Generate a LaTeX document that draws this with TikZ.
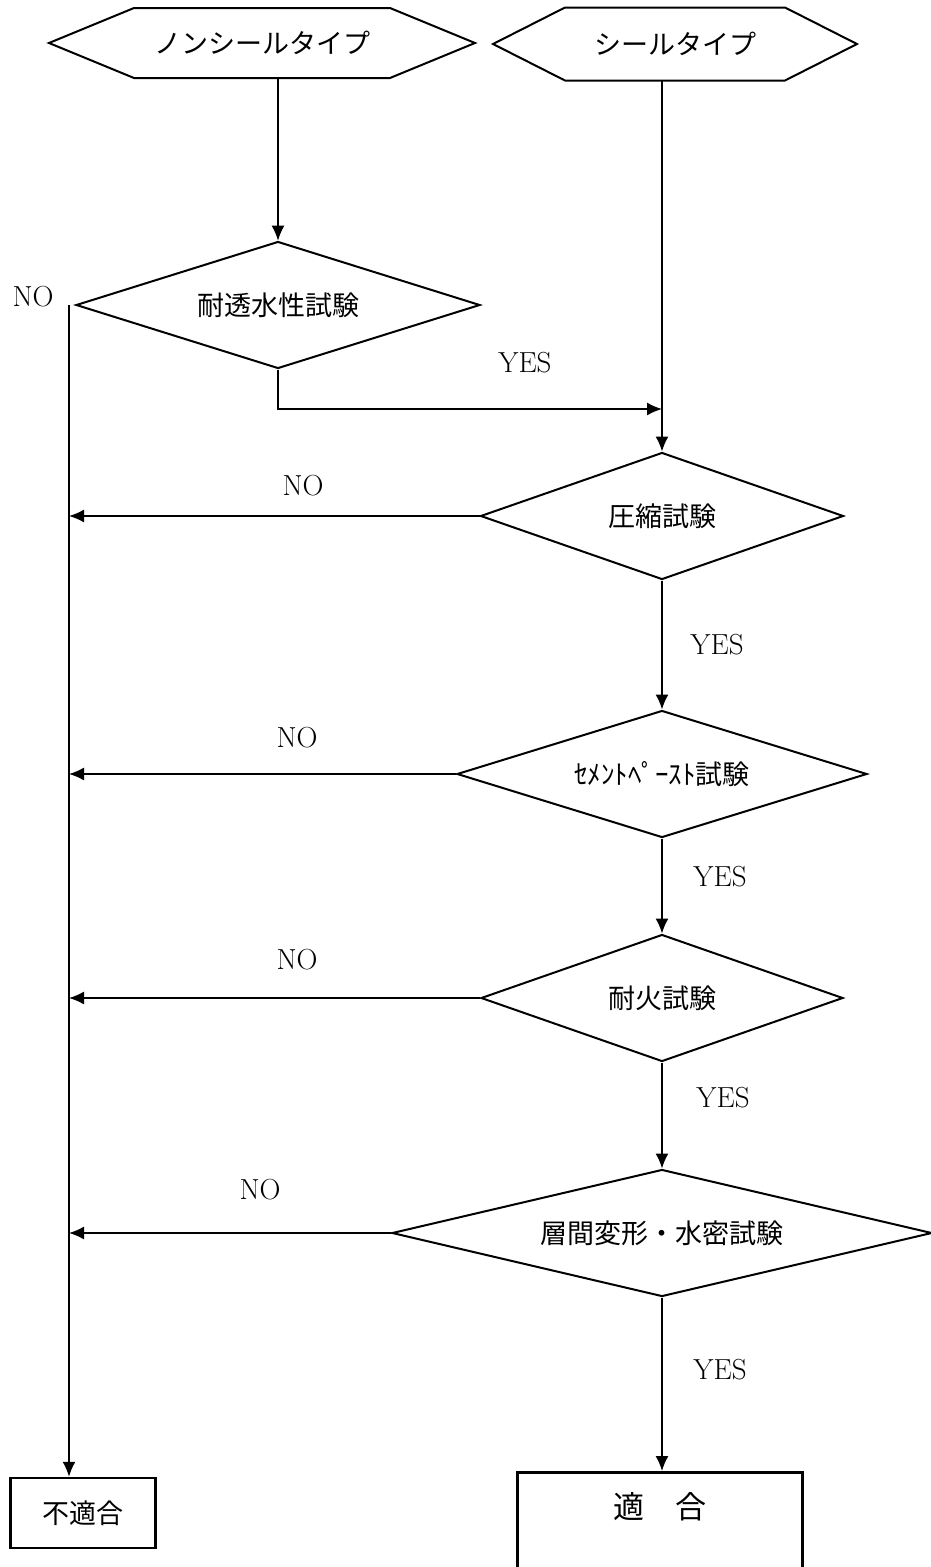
\documentclass[tikz,border=0pt]{standalone}
\usepackage{fontspec}
\usepackage{tikz}
\usetikzlibrary{arrows.meta,shapes.geometric,calc}
\newfontfamily\jp{Noto Sans CJK JP}
\newcommand\hexframe[2]{\draw[line width=2pt] (#1.west) -- ($(#1.north west)+(#2,0)$) -- ($(#1.north east)-(#2,0)$) -- (#1.east) -- ($(#1.south east)-(#2,0)$) -- ($(#1.south west)+(#2,0)$) -- cycle;}

\begin{document}
\begin{tikzpicture}[x=1pt,y=-1pt,line width=1.5pt,
		every node/.style={font=\jp\fontsize{27}{32}\selectfont},
		test/.style={diamond,draw,line width=2pt,aspect=4,inner sep=0pt,minimum height=127},
		hexnode/.style={outer sep=0pt},
		result/.style={draw,line width=2.5pt},
		answer/.style={font=\fontsize{29}{34}\selectfont},
		flow/.style={-{Latex[length=15pt,width=13pt]}}]
				\useasboundingbox (0,0) rectangle (930,1567);
				% types
				\node[hexnode,minimum width=426,minimum height=70] (nonseal) at (262,43) {ノンシールタイプ};
				\node[hexnode,minimum width=364,minimum height=73] (seal) at (675,44) {シールタイプ};
				\hexframe{nonseal}{85}
				\hexframe{seal}{72}
				% tests
				\node[test,minimum width=404] (d1) at (278,305) {耐透水性試験};
				\node[test,minimum width=363] (d2) at (662,516) {圧縮試験};
				\node[test,minimum width=410] (d3) at (662,774) {ｾﾒﾝﾄﾍﾟｰｽﾄ試験};
				\node[test,minimum width=362] (d4) at (662,998) {耐火試験};
				\node[test,minimum width=540] (d5) at (662,1233) {層間変形・水密試験};
				% results
				\node[result,minimum width=145,minimum height=70] (ng) at (83,1513) {不適合};
				\node[result,anchor=north,minimum width=285,inner ysep=0pt,text height=46pt,text depth=83pt,
					font=\jp\fontsize{31}{36}\selectfont] (ok) at (660,1471) {適　合};
				% connectors
				\draw[flow,line width=1.1pt] (nonseal.south -| d1.north) -- (d1.north);
				\draw[flow] (seal.south -| d2.north) -- (d2.north);
				\coordinate (join) at (662,409);
				\draw[flow] (d1.south) |- (join);
				\coordinate (trunk) at ([xshift=-6pt]d1.west);
				\draw[flow] (trunk) -- (trunk |- ng.north);
				\foreach \d in {d2,d3,d4,d5}
				\draw[flow] (\d.west) -- (\d.west -| trunk);
				\foreach \a/\b in {d2/d3,d3/d4,d4/d5}
				\draw[flow] (\a.south) -- (\b.north);
				\draw[flow] (d5.south) -- (d5.south |- ok.north);
				% labels
				\foreach \x/\y/\t [count=\i] in {33/297/NO,525/363/YES,303/486/NO,717/645/YES,297/738/NO,
					720/877/YES,297/960/NO,723/1098/YES,260/1190/NO,720/1370/YES}
				\node[answer] (lab\i) at (\x,\y) {\t};
\end{tikzpicture}
\end{document}
